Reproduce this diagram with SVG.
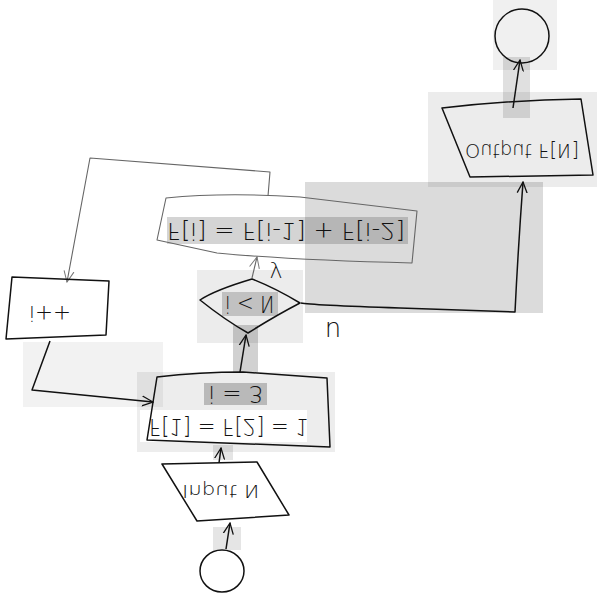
<svg xmlns="http://www.w3.org/2000/svg" width="600" height="600" viewBox="0 0 600 600">
<defs>
<marker id="ah" viewBox="0 0 12 12" refX="11" refY="6" markerWidth="12" markerHeight="12" markerUnits="userSpaceOnUse" orient="auto">
<path d="M0,1 L11,6 L0,11" fill="none" stroke="#111" stroke-width="1.3"/>
</marker>
<marker id="ahl" viewBox="0 0 12 12" refX="11" refY="6" markerWidth="12" markerHeight="12" markerUnits="userSpaceOnUse" orient="auto">
<path d="M0,1 L11,6 L0,11" fill="none" stroke="#777" stroke-width="1"/>
</marker>
</defs>
<style>
.bx{fill:#000;stroke:none}
.sh{fill:none;stroke:#111;stroke-width:1.5;stroke-linejoin:round}
.shl{fill:none;stroke:#666;stroke-width:1.1;stroke-linejoin:round}
.cn{fill:none;stroke:#111;stroke-width:1.5;stroke-linejoin:round}
.t{font-family:"DejaVu Sans","Liberation Sans",sans-serif;font-weight:200;fill:#111;text-anchor:middle;dominant-baseline:central}
</style>
<rect width="600" height="600" fill="#fff"/>
<g id="highlights">
<rect class="bx" x="493" y="0" width="64" height="70" fill-opacity="0.06"/>
<rect class="bx" x="428" y="92" width="169" height="95" fill-opacity="0.075"/>
<rect class="bx" x="503" y="57" width="27" height="61" fill-opacity="0.12"/>
<rect class="bx" x="305" y="182" width="238" height="131" fill-opacity="0.14"/>
<rect class="bx" x="167" y="217" width="241" height="27" fill-opacity="0.17"/>
<rect class="bx" x="197" y="270" width="106" height="73" fill-opacity="0.075"/>
<rect class="bx" x="222" y="292" width="56" height="24" fill-opacity="0.18"/>
<rect class="bx" x="233" y="325" width="25" height="47" fill-opacity="0.18"/>
<rect class="bx" x="23" y="342" width="140" height="65" fill-opacity="0.05"/>
<rect class="bx" x="137" y="372" width="198" height="80" fill-opacity="0.07"/>
<rect x="140" y="410" width="167" height="32" fill="#fff"/>
<rect class="bx" x="204" y="383" width="63" height="22" fill-opacity="0.22"/>
<rect class="bx" x="213" y="445" width="20" height="15" fill-opacity="0.1"/>
<rect class="bx" x="213" y="527" width="28" height="23" fill-opacity="0.1"/>
</g>
<g id="connectors">
<path class="cn" d="M226,549 L230,523" marker-end="url(#ah)"/>
<path class="cn" d="M219,463 L221,448" marker-end="url(#ah)"/>
<path class="cn" d="M240,372 L246,335" marker-end="url(#ah)"/>
<path class="shl" d="M252,278 L257,257" marker-end="url(#ahl)"/>
<path class="cn" d="M301,303 Q310,305 400,308 L515,312 Q518,250 523,182" marker-end="url(#ah)"/>
<path class="shl" d="M268,196 L270,172 L90,158 L67,282" marker-end="url(#ahl)"/>
<path class="cn" d="M50,341 L32,390 L153,402" marker-end="url(#ah)"/>
<path class="cn" d="M513,108 L520,60" marker-end="url(#ah)"/>
<text class="t" transform="translate(276,273) scale(1,-1)" font-size="22">y</text>
<text class="t" x="333" y="328" font-size="26">n</text>
</g>
<g id="start">
<ellipse class="sh" cx="222" cy="571" rx="22" ry="21"/>
</g>
<g id="input">
<path class="sh" d="M162,464 L257,462 L289,515 Q240,518 197,521 Z"/>
<text class="t" transform="translate(221,491) scale(1,-1)" font-size="17" textLength="78" lengthAdjust="spacingAndGlyphs">Input N</text>
</g>
<g id="init">
<path class="sh" d="M157,377 Q200,372 243,372 L327,378 L330,447 L147,440 Z"/>
<text class="t" transform="translate(236,394) scale(1,-1)" font-size="23">i = 3</text>
<text class="t" transform="translate(229,427) scale(1,-1)" font-size="23" textLength="160" lengthAdjust="spacingAndGlyphs">F[1] = F[2] = 1</text>
</g>
<g id="decision">
<path class="sh" d="M200,300 Q215,290 252,279 Q275,288 300,303 Q275,316 248,333 Q225,320 200,300 Z"/>
<text class="t" transform="translate(250,304) scale(1,-1)" font-size="23" textLength="50" lengthAdjust="spacingAndGlyphs">i &lt; N</text>
</g>
<g id="process">
<path class="shl" d="M166,198 Q225,192 300,197 L417,211 L412,263 Q290,260 217,253 L157,240 Z"/>
<text class="t" transform="translate(286,231) scale(1,-1)" font-size="23" fill="#555" textLength="238" lengthAdjust="spacingAndGlyphs">F[i] = F[i-1] + F[i-2]</text>
</g>
<g id="increment">
<path class="sh" d="M12,277 L109,281 L106,335 L6,339 Z"/>
<text class="t" transform="translate(50,313) scale(1,-1)" font-size="21" textLength="42" lengthAdjust="spacingAndGlyphs">i++</text>
</g>
<g id="output">
<path class="sh" d="M442,108 Q510,100 581,99 L593,175 L470,177 Z"/>
<text class="t" transform="translate(522,151) scale(1,-1)" font-size="19" textLength="114" lengthAdjust="spacingAndGlyphs">Output F[N]</text>
</g>
<g id="end">
<ellipse class="sh" cx="522" cy="36" rx="27" ry="27"/>
</g>
</svg>
